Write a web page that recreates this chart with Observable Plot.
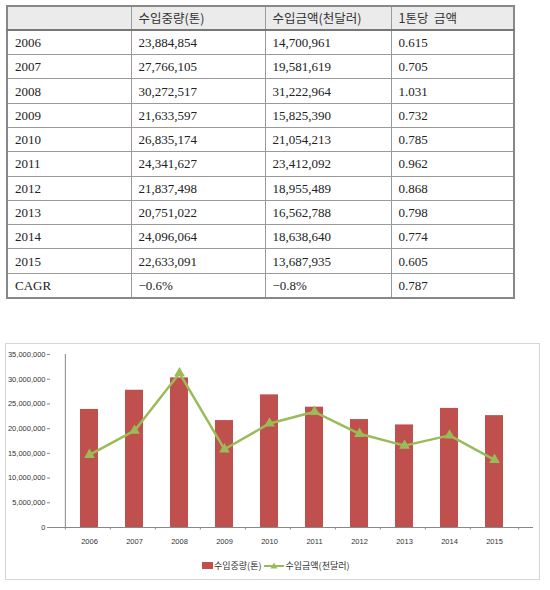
<!DOCTYPE html>
<html><head><meta charset="utf-8">
<script src="https://cdn.jsdelivr.net/npm/d3@7"></script>
<script src="https://cdn.jsdelivr.net/npm/@observablehq/plot@0.6"></script>
<style>
body{margin:0;background:#fff;width:550px;height:590px;position:relative;overflow:hidden}
#tbl{position:absolute;left:6px;top:5px;border-collapse:collapse;table-layout:fixed;width:507px;font-family:"Liberation Serif","Noto Sans CJK KR",serif;font-size:13px;color:#222}
#tbl td,#tbl th{border:1px solid #9a9a9a;height:24.3px;padding:0 0 0 7px;text-align:left;font-weight:normal;box-sizing:border-box;line-height:1}
#tbl th{background:#ebebeb;color:#333;font-family:"Noto Sans CJK KR",sans-serif;font-size:12.5px;border-bottom:2px solid #777}
#tbl{border:2px solid #888}
#box{position:absolute;left:5px;top:343px;width:535px;height:237px;border:1px solid #d6d6d6;box-sizing:border-box}
#chart{position:absolute;left:5px;top:343px}
#legend{position:absolute;top:559px;left:202px;display:flex;align-items:center;font-family:"Noto Sans CJK KR",sans-serif;font-size:9px;color:#333;white-space:nowrap}
#legend .sw{display:inline-block;width:11px;height:7px;background:#c0504d;margin-right:1px}
#legend svg{margin-left:3px;margin-right:1px}
</style></head>
<body>
<table id="tbl"><colgroup><col style="width:124px"><col style="width:134px"><col style="width:126px"><col style="width:123px"></colgroup></table>
<div id="box"></div>
<div id="chart"></div>
<div id="legend"></div>
<script>
const headers = ["", "수입중량(톤)", "수입금액(천달러)", "1톤당\u00a0\u00a0금액"];
const years = ["2006","2007","2008","2009","2010","2011","2012","2013","2014","2015"];
const volume = [23884854, 27766105, 30272517, 21633597, 26835174, 24341627, 21837498, 20751022, 24096064, 22633091];
const amount = [14700961, 19581619, 31222964, 15825390, 21054213, 23412092, 18955489, 16562788, 18638640, 13687935];
const perTon = ["0.615","0.705","1.031","0.732","0.785","0.962","0.868","0.798","0.774","0.605"];
const cagrRow = ["CAGR", "−0.6%", "−0.8%", "0.787"];
const yTicks = [0, 5000000, 10000000, 15000000, 20000000, 25000000, 30000000, 35000000];
const seriesNames = ["수입중량(톤)", "수입금액(천달러)"];
const barColor = "#c0504d", lineColor = "#9bbb59";

// table
const fmt = d3.format(",");
const tbl = document.getElementById("tbl");
const hr = tbl.insertRow();
headers.forEach(h => { const th = document.createElement("th"); th.textContent = h; hr.appendChild(th); });
years.forEach((y, i) => {
  const r = tbl.insertRow();
  [y, fmt(volume[i]), fmt(amount[i]), perTon[i]].forEach(v => { r.insertCell().textContent = v; });
});
const cr = tbl.insertRow();
cagrRow.forEach(v => { cr.insertCell().textContent = v; });

// chart
const data = years.map((y, i) => ({year: y, volume: volume[i], amount: amount[i]}));
const W = 535, H = 210, mL = 45, mR = 7;
const step = (W - mL - mR) / years.length;
const chart = Plot.plot({
  width: W, height: H,
  marginLeft: mL, marginRight: mR, marginTop: 11, marginBottom: 26,
  style: {fontFamily: "'Liberation Sans',sans-serif", fontSize: "7.5px", color: "#333", background: "transparent"},
  x: {domain: years, padding: 0.6, label: null, tickSize: 0, tickPadding: 11},
  y: {domain: [0, 35000000], ticks: yTicks, tickFormat: d => fmt(d), label: null, tickSize: 3, tickPadding: 2},
  marks: [
    Plot.barY(data, {x: "year", y: "volume", fill: barColor}),
    Plot.ruleY([0], {stroke: "#888"}),
    Plot.ruleX(years, {x: d => d, dx: -step / 2, y1: 0, y2: -500000, stroke: "#888", clip: false}),
    Plot.ruleX([years[years.length - 1]], {x: d => d, dx: step / 2, y1: 0, y2: -500000, stroke: "#888"}),
    Plot.ruleX([years[0]], {x: d => d, dx: -step / 2, y1: 0, y2: 35000000, stroke: "#888"}),
    Plot.line(data, {x: "year", y: "amount", stroke: lineColor, strokeWidth: 2.5}),
    Plot.dot(data, {x: "year", y: "amount", symbol: "triangle", fill: lineColor, r: 4})
  ]
});
chart.querySelectorAll('[aria-label="y-axis tick"]').forEach(g => g.setAttribute("stroke", "#888"));
document.getElementById("chart").appendChild(chart);

// legend
const lg = document.getElementById("legend");
lg.innerHTML = `<span class="sw"></span><span>${seriesNames[0]}</span>` +
  `<svg width="20" height="10" style="margin-left:3px"><line x1="0" y1="5" x2="20" y2="5" stroke="${lineColor}" stroke-width="2"/><path d="M10,1.5 L13.5,7.5 L6.5,7.5Z" fill="${lineColor}"/></svg>` +
  `<span>${seriesNames[1]}</span>`;
</script>
</body></html>
